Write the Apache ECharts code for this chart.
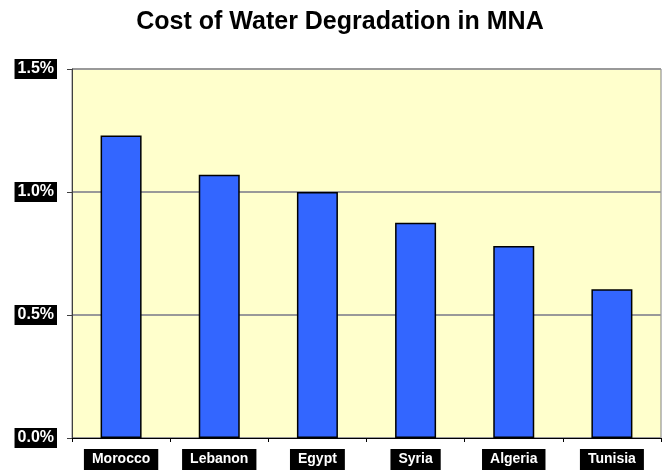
<!DOCTYPE html>
<html><head><meta charset="utf-8">
<script src="https://cdn.jsdelivr.net/npm/echarts@6/dist/echarts.min.js"></script>
<style>html,body{margin:0;padding:0;background:#fff}#c{width:669px;height:470px}</style>
</head><body><div id="c"></div>
<script>
const categories = ["Morocco", "Lebanon", "Egypt", "Syria", "Algeria", "Tunisia"];
const costPercent = [1.23, 1.07, 1.00, 0.875, 0.78, 0.605];
const yTicks = [0, 0.5, 1.0, 1.5];

const chart = echarts.init(document.getElementById('c'), null, {renderer: 'canvas'});
chart.setOption({
  animation: false,
  backgroundColor: '#ffffff',
  title: {
    text: 'Cost of Water Degradation in MNA',
    left: 335, top: 5, textAlign: 'center',
    textStyle: {fontFamily: 'Liberation Sans, Arial', fontSize: 25, fontWeight: 'bold', color: '#000'}
  },
  grid: {
    left: 72, right: 8, top: 69, bottom: 31,
    show: true, backgroundColor: '#FFFFCC', borderColor: '#808080', borderWidth: 1
  },
  xAxis: {
    type: 'category',
    data: categories,
    axisLine: {lineStyle: {color: '#000', width: 1}},
    axisTick: {show: true, length: 4, lineStyle: {color: '#000'}},
    axisLabel: {
      margin: 11,
      color: '#fff', backgroundColor: '#000',
      fontFamily: 'Liberation Sans, Arial', fontWeight: 'bold', fontSize: 14,
      lineHeight: 15,
      padding: [3, 8, 3, 8]
    }
  },
  yAxis: {
    type: 'value', min: yTicks[0], max: yTicks[yTicks.length - 1], interval: 0.5,
    axisLine: {show: true, lineStyle: {color: '#404040', width: 1}},
    axisTick: {show: true, length: 5, lineStyle: {color: '#404040'}},
    splitLine: {lineStyle: {color: '#999999', width: 2}},
    axisLabel: {
      margin: 15,
      formatter: v => v.toFixed(1) + '%',
      color: '#fff', backgroundColor: '#000',
      fontFamily: 'Liberation Sans, Arial', fontWeight: 'bold', fontSize: 16,
      lineHeight: 16,
      padding: [2, 3, 2, 3]
    }
  },
  series: [{
    type: 'bar',
    data: costPercent,
    barWidth: 41,
    itemStyle: {color: '#3366FF', borderColor: '#000', borderWidth: 1.5}
  }]
});
</script></body></html>
